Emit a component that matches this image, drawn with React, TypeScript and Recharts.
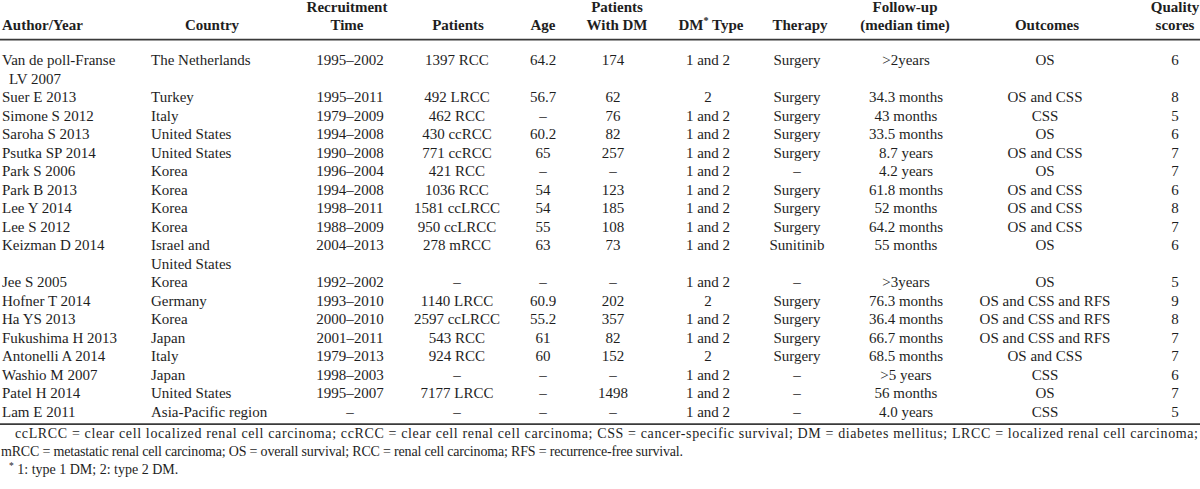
import React from 'react';
import { ScatterChart, Scatter, XAxis, YAxis, ReferenceLine } from 'recharts';

// ---------------- data ----------------
const authorYear = [
  'Van de poll-Franse\nLV 2007', 'Suer E 2013', 'Simone S 2012', 'Saroha S 2013', 'Psutka SP 2014',
  'Park S 2006', 'Park B 2013', 'Lee Y 2014', 'Lee S 2012', 'Keizman D 2014', 'Jee S 2005',
  'Hofner T 2014', 'Ha YS 2013', 'Fukushima H 2013', 'Antonelli A 2014', 'Washio M 2007',
  'Patel H 2014', 'Lam E 2011',
];
const country = [
  'The Netherlands', 'Turkey', 'Italy', 'United States', 'United States', 'Korea', 'Korea', 'Korea',
  'Korea', 'Israel and\nUnited States', 'Korea', 'Germany', 'Korea', 'Japan', 'Italy', 'Japan',
  'United States', 'Asia-Pacific region',
];
const recruitmentTime = [
  '1995–2002', '1995–2011', '1979–2009', '1994–2008', '1990–2008', '1996–2004', '1994–2008',
  '1998–2011', '1988–2009', '2004–2013', '1992–2002', '1993–2010', '2000–2010', '2001–2011',
  '1979–2013', '1998–2003', '1995–2007', '–',
];
const patients = [
  '1397 RCC', '492 LRCC', '462 RCC', '430 ccRCC', '771 ccRCC', '421 RCC', '1036 RCC', '1581 ccLRCC',
  '950 ccLRCC', '278 mRCC', '–', '1140 LRCC', '2597 ccLRCC', '543 RCC', '924 RCC', '–', '7177 LRCC', '–',
];
const age = [
  '64.2', '56.7', '–', '60.2', '65', '–', '54', '54', '55', '63', '–', '60.9', '55.2', '61', '60', '–', '–', '–',
];
const patientsWithDM = [
  '174', '62', '76', '82', '257', '–', '123', '185', '108', '73', '–', '202', '357', '82', '152', '–', '1498', '–',
];
const dmType = [
  '1 and 2', '2', '1 and 2', '1 and 2', '1 and 2', '1 and 2', '1 and 2', '1 and 2', '1 and 2', '1 and 2',
  '1 and 2', '2', '1 and 2', '1 and 2', '2', '1 and 2', '1 and 2', '1 and 2',
];
const therapy = [
  'Surgery', 'Surgery', 'Surgery', 'Surgery', 'Surgery', '–', 'Surgery', 'Surgery', 'Surgery', 'Sunitinib',
  '–', 'Surgery', 'Surgery', 'Surgery', 'Surgery', '–', '–', '–',
];
const followUp = [
  '>2years', '34.3 months', '43 months', '33.5 months', '8.7 years', '4.2 years', '61.8 months', '52 months',
  '64.2 months', '55 months', '>3years', '76.3 months', '36.4 months', '66.7 months', '68.5 months',
  '>5 years', '56 months', '4.0 years',
];
const outcomes = [
  'OS', 'OS and CSS', 'CSS', 'OS', 'OS and CSS', 'OS', 'OS and CSS', 'OS and CSS', 'OS and CSS', 'OS',
  'OS', 'OS and CSS and RFS', 'OS and CSS and RFS', 'OS and CSS and RFS', 'OS and CSS', 'CSS', 'OS', 'CSS',
];
const qualityScores = ['6', '8', '5', '6', '7', '7', '6', '8', '7', '6', '5', '9', '8', '7', '7', '6', '7', '5'];

const headerLabels = [
  'Author/Year', 'Country', 'Recruitment\nTime', 'Patients', 'Age', 'Patients\nWith DM', 'DM* Type',
  'Therapy', 'Follow-up\n(median time)', 'Outcomes', 'Quality\nscores',
];

const footnotes = [
  'ccLRCC = clear cell localized renal cell carcinoma; ccRCC = clear cell renal cell carcinoma; CSS = cancer-specific survival; DM = diabetes mellitus; LRCC = localized renal cell carcinoma;',
  'mRCC = metastatic renal cell carcinoma; OS = overall survival; RCC = renal cell carcinoma; RFS = recurrence-free survival.',
  '* 1: type 1 DM; 2: type 2 DM.',
];

// ---------------- layout (not data) ----------------
const W = 1200;
const H = 489;
const LINE_PX = 18.5;
const FIRST_ROW_PX = 60;
const Y_MIN = -FIRST_ROW_PX / LINE_PX;
const Y_MAX = Y_MIN + H / LINE_PX;
const FONT = '"Liberation Serif", "Times New Roman", Times, serif';
const TEXT = '#1e1e1e';

type Anchor = 'start' | 'middle' | 'end';
const columnLayout: { values: string[]; x: number; anchor: Anchor; hx: number; hAnchor: Anchor; indent?: number }[] = [
  { values: authorYear, x: 2, anchor: 'start', hx: 2, hAnchor: 'start', indent: 7 },
  { values: country, x: 151, anchor: 'start', hx: 212, hAnchor: 'middle' },
  { values: recruitmentTime, x: 350, anchor: 'middle', hx: 347, hAnchor: 'middle' },
  { values: patients, x: 457, anchor: 'middle', hx: 458, hAnchor: 'middle' },
  { values: age, x: 543, anchor: 'middle', hx: 543, hAnchor: 'middle' },
  { values: patientsWithDM, x: 613, anchor: 'middle', hx: 617, hAnchor: 'middle' },
  { values: dmType, x: 708, anchor: 'middle', hx: 711, hAnchor: 'middle' },
  { values: therapy, x: 797, anchor: 'middle', hx: 800, hAnchor: 'middle' },
  { values: followUp, x: 906, anchor: 'middle', hx: 905, hAnchor: 'middle' },
  { values: outcomes, x: 1045, anchor: 'middle', hx: 1047, hAnchor: 'middle' },
  { values: qualityScores, x: 1175, anchor: 'middle', hx: 1175, hAnchor: 'middle' },
];

// row start line index derived from number of text lines in each row
const rowStart: number[] = [];
{
  let line = 0;
  for (let i = 0; i < authorYear.length; i++) {
    rowStart.push(line);
    const n = Math.max(...columnLayout.map((c) => c.values[i].split('\n').length));
    line += n;
  }
}
const lastLine = rowStart[rowStart.length - 1];

type Cell = { x: number; y: number; text: string; anchor: Anchor; bold?: boolean; fs: number; fit?: number };

const bodyCells: Cell[] = [];
columnLayout.forEach((c) => {
  c.values.forEach((v, i) => {
    v.split('\n').forEach((t, j) => {
      bodyCells.push({ x: c.x + (j > 0 && c.indent ? c.indent : 0), y: rowStart[i] + j, text: t, anchor: c.anchor, fs: 15 });
    });
  });
});

const HEADER_LAST = -1.9;
const HEADER_STEP = 0.96;
const headerCells: Cell[] = [];
columnLayout.forEach((c, k) => {
  const lines = headerLabels[k].split('\n');
  lines.forEach((t, j) => {
    headerCells.push({ x: c.hx, y: HEADER_LAST - (lines.length - 1 - j) * HEADER_STEP, text: t, anchor: c.hAnchor, bold: true, fs: 15 });
  });
});

const footLayout = [
  { x: 15, y: lastLine + 1.17, fit: 1183 },
  { x: 1, y: lastLine + 2.17, fit: 682 },
  { x: 9, y: lastLine + 3.14 },
];
const footCells: Cell[] = footnotes.map((t, i) => ({
  x: footLayout[i].x, y: footLayout[i].y, text: t, anchor: 'start', fs: 14, fit: footLayout[i].fit,
}));

function renderText(text: string, fs: number) {
  if (!text.includes('*')) return text;
  const parts = text.split('*');
  const out: React.ReactNode[] = [];
  parts.forEach((p, i) => {
    if (i > 0) {
      out.push(<tspan key={'s' + i} dy={-fs * 0.38} fontSize={fs * 0.68}>*</tspan>);
      out.push(<tspan key={'t' + i} dy={fs * 0.38}>{p}</tspan>);
    } else if (p) {
      out.push(<tspan key={'t' + i}>{p}</tspan>);
    }
  });
  return out;
}

function CellShape(props: any) {
  const { cx, cy, payload } = props;
  const p: Cell = payload;
  if (cx == null || cy == null) return null;
  return (
    <text
      x={cx}
      y={cy + p.fs * 0.34}
      textAnchor={p.anchor}
      fontFamily={FONT}
      fontSize={p.fs}
      fontWeight={p.bold ? 700 : 400}
      fill={TEXT}
      textLength={p.fit}
      lengthAdjust={p.fit ? 'spacing' : undefined}
    >
      {renderText(p.text, p.fs)}
    </text>
  );
}

export default function App() {
  return (
    <div style={{ position: 'fixed', left: 0, top: 0, width: W, height: H, background: '#fff' }}>
      <ScatterChart width={W} height={H} margin={{ top: 0, right: 0, bottom: 0, left: 0 }}>
        <XAxis type="number" dataKey="x" domain={[0, W]} hide allowDataOverflow />
        <YAxis type="number" dataKey="y" domain={[Y_MIN, Y_MAX]} reversed hide allowDataOverflow />
        <ReferenceLine y={-1.1} stroke="#3a3a3a" strokeWidth={1.8} />
        <ReferenceLine y={lastLine + 0.68} stroke="#3a3a3a" strokeWidth={1.8} />
        <Scatter data={headerCells} shape={CellShape} isAnimationActive={false} />
        <Scatter data={bodyCells} shape={CellShape} isAnimationActive={false} />
        <Scatter data={footCells} shape={CellShape} isAnimationActive={false} />
      </ScatterChart>
    </div>
  );
}
